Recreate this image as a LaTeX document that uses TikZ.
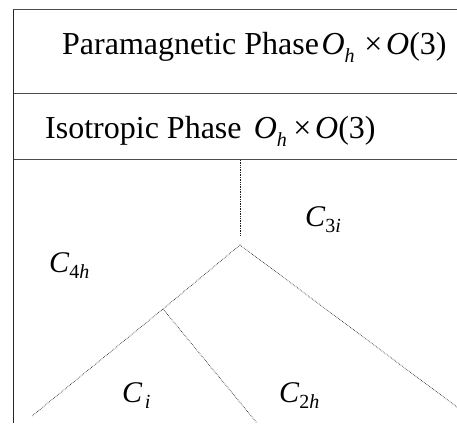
\documentclass[tikz,border=0pt]{standalone}
\usepackage{fontspec}
\setmainfont{Liberation Serif}
\newcommand{\symO}{\textit{O}}
\newcommand{\subsc}[2]{\raisebox{-#1pt}{\fontsize{20}{20}\selectfont #2}}
\newcommand{\Ohx}[1]{\symO\subsc{8}{\textit{h}}\hspace{#1}×\hspace{0.12em}\symO(3)}
\tikzset{
  lbl/.style={anchor=base west, inner sep=0pt, font=\fontsize{32}{36}\selectfont},
  clbl/.style={anchor=base west, inner sep=0pt, font=\fontsize{30}{34}\selectfont},
  frame/.style={line width=0.9pt, draw=black!70},
  dotl/.style={line width=0.7pt, draw=black!90, dash pattern=on 0.6pt off 1.1pt},
}
\begin{document}
\begin{tikzpicture}[x=1pt,y=-1pt]
\useasboundingbox (0,0) rectangle (457,423);
% frame lines
\coordinate (tl) at (13,9.5);
\coordinate (tr) at (457,9.5);
\coordinate (ml) at (13,93.5);
\coordinate (mr) at (457,93.5);
\coordinate (bl) at (13,159.5);
\coordinate (br) at (457,159.5);
\coordinate (bot) at (13,423);
\draw[frame] (tl) -- (tr);
\draw[frame] (ml) -- (mr);
\draw[frame] (bl) -- (br);
\draw[line width=0.9pt, draw=black!85] (tl) -- (bot);
% texts
\node[lbl] (para) at (62,54) {Paramagnetic Phase\hspace{0.08em}\Ohx{0.3em}};
\node[lbl] (iso) at (45,138) {Isotropic Phase\hspace{0.38em}\Ohx{0.2em}};
% tree
\coordinate (top) at (240,160);
\coordinate (vend) at (240,235);
\coordinate (apex) at (240,245);
\coordinate (split) at (163,309);
\coordinate (lend) at (32,416);
\coordinate (mend) at (257,423);
\coordinate (rend) at (457,407);
\draw[dotl] (top) -- (vend);
\draw[dotl] (apex) -- (split) -- (lend);
\draw[dotl] (split) -- (mend);
\draw[dotl] (apex) -- (rend);
% region labels
\node[clbl] (c3i) at (305,226) {\textit{C}\subsc{6}{3\textit{i}}};
\node[clbl] (c4h) at (49,272) {\textit{C}\subsc{6}{4\textit{h}}};
\node[clbl] (ci) at (122,402) {\textit{C}\subsc{6}{\hspace{0.12em}\textit{i}}};
\node[clbl] (c2h) at (279,402) {\textit{C}\subsc{6}{2\textit{h}}};
\end{tikzpicture}
\end{document}
